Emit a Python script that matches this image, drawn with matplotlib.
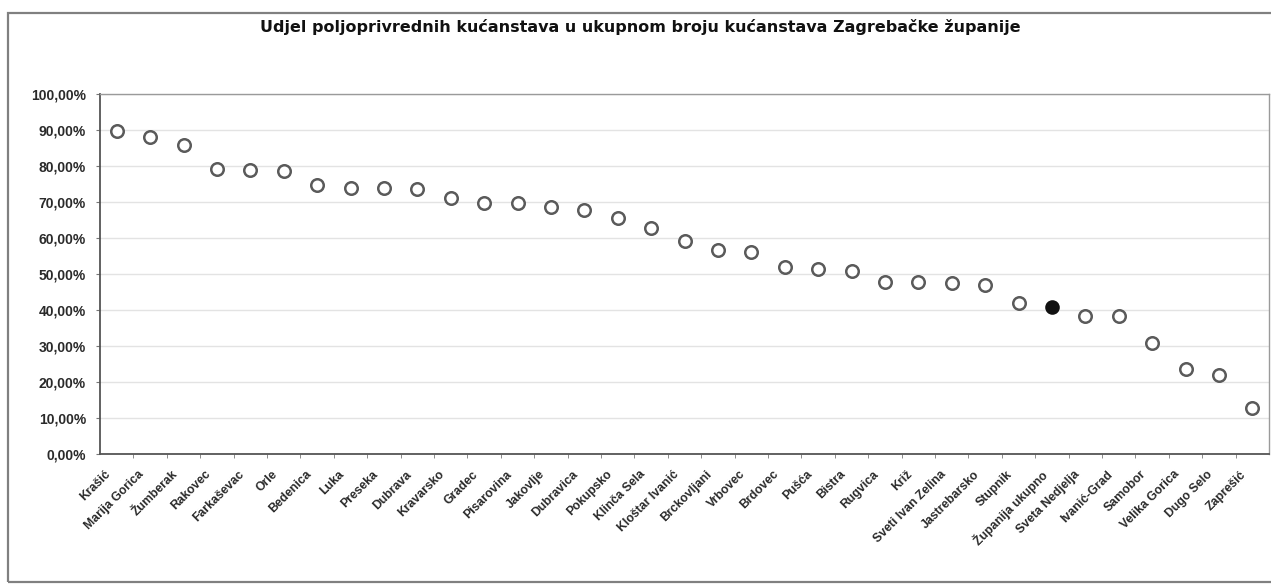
import matplotlib
matplotlib.use("Agg")
import matplotlib.pyplot as plt
from matplotlib.ticker import FuncFormatter, MultipleLocator
from matplotlib.patches import Rectangle
from matplotlib.transforms import ScaledTranslation

plt.rcParams['font.family'] = ['Liberation Sans', 'DejaVu Sans']

title = "Udjel poljoprivrednih kućanstava u ukupnom broju kućanstava Zagrebačke županije"

categories = ["Krašić", "Marija Gorica", "Žumberak", "Rakovec", "Farkaševac", "Orle",
              "Bedenica", "Luka", "Preseka", "Dubrava", "Kravarsko", "Gradec",
              "Pisarovina", "Jakovlje", "Dubravica", "Pokupsko", "Klinča Sela",
              "Kloštar Ivanić", "Brckovljani", "Vrbovec", "Brdovec", "Pušća", "Bistra",
              "Rugvica", "Križ", "Sveti Ivan Zelina", "Jastrebarsko", "Stupnik",
              "Županija ukupno", "Sveta Nedjelja", "Ivanić-Grad", "Samobor",
              "Velika Gorica", "Dugo Selo", "Zaprešić"]

values = [89.7, 88.1, 85.8, 79.2, 79.0, 78.5, 74.7, 73.9, 73.8, 73.6, 71.1, 69.7,
          69.7, 68.6, 67.8, 65.6, 62.8, 59.2, 56.7, 56.1, 51.9, 51.4, 50.8, 47.8,
          47.8, 47.5, 46.9, 42.0, 40.7, 38.3, 38.3, 30.9, 23.6, 21.9, 12.8]

highlight = "Županija ukupno"

W, H = 1271, 585
fig = plt.figure(figsize=(W / 100, H / 100), dpi=100)
fig.patch.set_facecolor('white')

# outer chart frame
fig.add_artist(Rectangle((8 / W, 3 / H), (W - 6) / W, (H - 16) / H, transform=fig.transFigure,
                         fill=False, edgecolor='#808080', linewidth=1.6))

ax = fig.add_axes([100 / W, 1 - 454 / H, 1169 / W, 360 / H])

xs = list(range(len(categories)))
open_x = [x for x, c in zip(xs, categories) if c != highlight]
open_y = [v for v, c in zip(values, categories) if c != highlight]
fill_x = [x for x, c in zip(xs, categories) if c == highlight]
fill_y = [v for v, c in zip(values, categories) if c == highlight]

ax.plot(open_x, open_y, linestyle='none', marker='o', markersize=9,
        markerfacecolor='white', markeredgecolor='#5a5a5a', markeredgewidth=1.8, zorder=3)
ax.plot(fill_x, fill_y, linestyle='none', marker='o', markersize=9,
        markerfacecolor='#111111', markeredgecolor='#111111', markeredgewidth=1.5, zorder=3)

ax.set_xlim(-0.5, len(categories) - 0.5)
ax.set_ylim(0, 100)
ax.yaxis.set_major_locator(MultipleLocator(10))
ax.yaxis.set_major_formatter(FuncFormatter(lambda v, p: f"{v:.2f}%".replace('.', ',')))
ax.grid(axis='y', color='#e3e3e3', linewidth=1.0)
ax.set_axisbelow(True)

ax.set_xticks(xs)
ax.set_xticklabels(categories, rotation=45, ha='right', va='top', rotation_mode='anchor',
                   fontsize=8.8, fontweight='bold', color='#2a2a2a')
ax.tick_params(axis='x', length=0, pad=6)
shift = ScaledTranslation(-12 / 100, -6 / 100, fig.dpi_scale_trans)
for lbl in ax.get_xticklabels():
    lbl.set_transform(lbl.get_transform() + shift)
ax.set_xticks([x + 0.5 for x in xs[:-1]], minor=True)
ax.tick_params(axis='x', which='minor', length=3, color='#777777', direction='out')
ax.tick_params(axis='y', labelsize=10, length=3, color='#777777', labelcolor='#2a2a2a', pad=7)
for lbl in ax.get_yticklabels():
    lbl.set_fontweight('bold')

for side in ['left', 'bottom']:
    ax.spines[side].set_color('#555555')
    ax.spines[side].set_linewidth(1.3)
for side in ['top', 'right']:
    ax.spines[side].set_color('#9a9a9a')
    ax.spines[side].set_linewidth(1.0)

fig.text(640 / W, 1 - 27 / H, title, ha='center', va='center', fontsize=11.5,
         fontweight='bold', color='#111111', family=['DejaVu Sans'])

fig.savefig('out.png', dpi=100, facecolor='white')
